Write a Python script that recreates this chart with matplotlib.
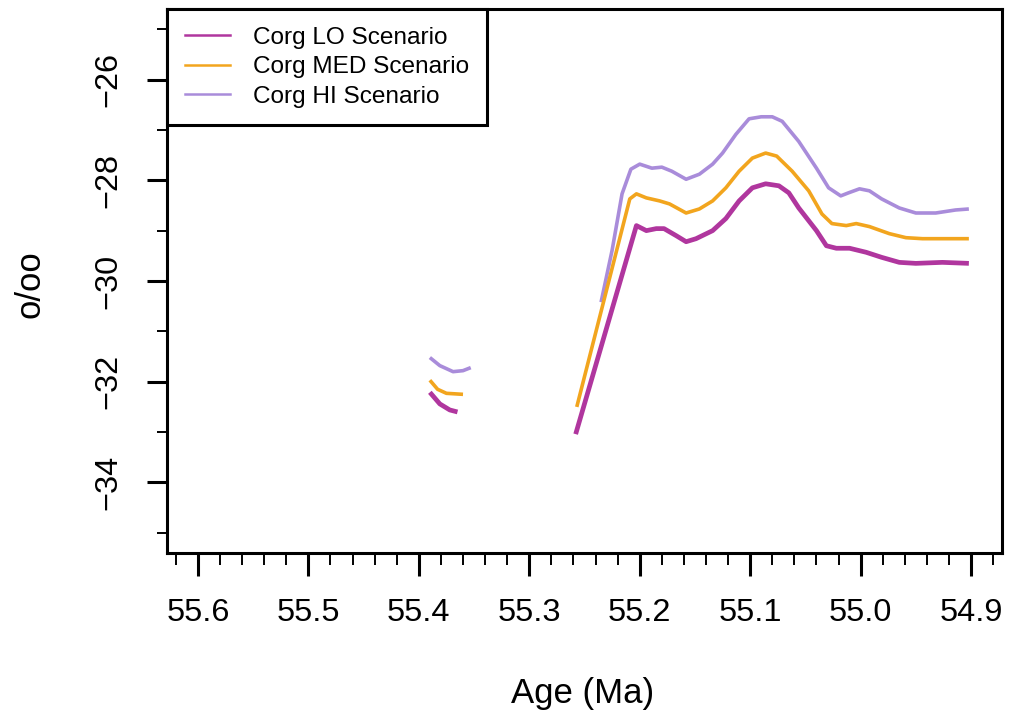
import numpy as np
import matplotlib
matplotlib.use("Agg")
import matplotlib.pyplot as plt
from matplotlib.lines import Line2D
from matplotlib.ticker import MultipleLocator

plt.rcParams['font.family'] = ['Liberation Sans', 'DejaVu Sans']
plt.rcParams['axes.unicode_minus'] = True

# ---- data (age in Ma, value in per mil); NaN separates gaps ----
lo_age = [55.390, 55.381, 55.372, 55.365, np.nan,
          55.258, 55.203, 55.194, 55.185, 55.178, 55.167, 55.158, 55.149,
          55.134, 55.122, 55.110, 55.098, 55.086, 55.074, 55.065, 55.056,
          55.040, 55.031, 55.022, 55.010, 54.995, 54.981, 54.965, 54.950,
          54.926, 54.902]
lo_val = [-32.21, -32.44, -32.56, -32.60, np.nan,
          -33.04, -28.90, -29.00, -28.96, -28.96, -29.10, -29.22, -29.16,
          -29.00, -28.76, -28.41, -28.15, -28.07, -28.11, -28.25, -28.55,
          -29.00, -29.30, -29.35, -29.35, -29.43, -29.53, -29.63, -29.65,
          -29.63, -29.65]

med_age = [55.390, 55.383, 55.375, 55.360, np.nan,
           55.257, 55.209, 55.203, 55.194, 55.182, 55.173, 55.158, 55.146,
           55.134, 55.122, 55.110, 55.098, 55.086, 55.076, 55.062, 55.047,
           55.035, 55.026, 55.013, 55.004, 54.992, 54.974, 54.959, 54.944,
           54.920, 54.902]
med_val = [-31.97, -32.15, -32.23, -32.25, np.nan,
           -32.50, -28.37, -28.27, -28.35, -28.41, -28.47, -28.65, -28.57,
           -28.41, -28.15, -27.82, -27.56, -27.46, -27.52, -27.82, -28.21,
           -28.67, -28.86, -28.90, -28.86, -28.92, -29.06, -29.14, -29.16,
           -29.16, -29.16]

hi_age = [55.390, 55.381, 55.369, 55.360, 55.353, np.nan,
          55.235, 55.225, 55.216, 55.208, 55.200, 55.189, 55.180, 55.171,
          55.158, 55.146, 55.134, 55.125, 55.113, 55.101, 55.090, 55.080,
          55.071, 55.056, 55.040, 55.029, 55.018, 55.011, 55.001, 54.992,
          54.981, 54.965, 54.950, 54.932, 54.914, 54.902]
hi_val = [-31.52, -31.68, -31.80, -31.78, -31.72, np.nan,
          -30.42, -29.39, -28.27, -27.78, -27.68, -27.76, -27.74, -27.82,
          -27.98, -27.88, -27.68, -27.46, -27.09, -26.78, -26.74, -26.74,
          -26.83, -27.23, -27.76, -28.15, -28.31, -28.25, -28.17, -28.21,
          -28.37, -28.55, -28.65, -28.65, -28.59, -28.57]

labels = ["Corg LO Scenario", "Corg MED Scenario", "Corg HI Scenario"]
colors = ["#B0369E", "#F2A51E", "#A98CDA"]
x_ticks = [55.6, 55.5, 55.4, 55.3, 55.2, 55.1, 55.0, 54.9]
x_ticklabels = ["55.6", "55.5", "55.4", "55.3", "55.2", "55.1", "55.0", "54.9"]
y_ticks = [-34, -32, -30, -28, -26]

fig = plt.figure(figsize=(10.10, 7.23), dpi=100)
ax = fig.add_axes([167/1010, 1 - 553/723, (1002-167)/1010, (553-9)/723])

kw = dict(solid_capstyle='butt', solid_joinstyle='round')
ax.plot(hi_age, hi_val, color=colors[2], lw=2.6, **kw)
ax.plot(med_age, med_val, color=colors[1], lw=2.6, **kw)
ax.plot(lo_age, lo_val, color=colors[0], lw=3.4, **kw)

ax.set_xlim(55.628, 54.872)
ax.set_ylim(-35.4, -24.6)

ax.set_xticks(x_ticks)
ax.set_xticklabels(x_ticklabels)
ax.xaxis.set_minor_locator(MultipleLocator(0.02))
ax.set_yticks(y_ticks)
ax.set_yticklabels(["\u2212" + str(abs(v)) for v in y_ticks])
ax.yaxis.set_minor_locator(MultipleLocator(1))

for s in ax.spines.values():
    s.set_linewidth(2.2)

ax.tick_params(axis='x', which='major', length=16.5, width=2.2, pad=16, labelsize=23.4)
ax.tick_params(axis='x', which='minor', length=8.5, width=1.4)
ax.tick_params(axis='y', which='major', length=14.4, width=2.2, pad=17, labelsize=23.4,
               labelrotation=90)
ax.tick_params(axis='y', which='minor', length=7.2, width=1.4)
for lab in ax.get_yticklabels():
    lab.set_va('center')

fig.text(583/1010, 1 - 693/723, "Age (Ma)", ha='center', va='center', fontsize=25)
fig.text(30/1010, 1 - 284/723, "o/oo", ha='center', va='center', fontsize=25, rotation=90)

handles = [Line2D([], [], color=c, lw=1.8) for c in colors]
leg = ax.legend(handles, labels, loc='upper left', bbox_to_anchor=(0, 1),
                borderaxespad=0, fontsize=17.6, frameon=True, fancybox=False,
                handlelength=1.85, handletextpad=0.95, labelspacing=0.3,
                borderpad=0.72)
leg.get_frame().set_edgecolor('black')
leg.get_frame().set_linewidth(2.2)
leg.get_frame().set_alpha(1)

fig.savefig("out.png", dpi=100)
